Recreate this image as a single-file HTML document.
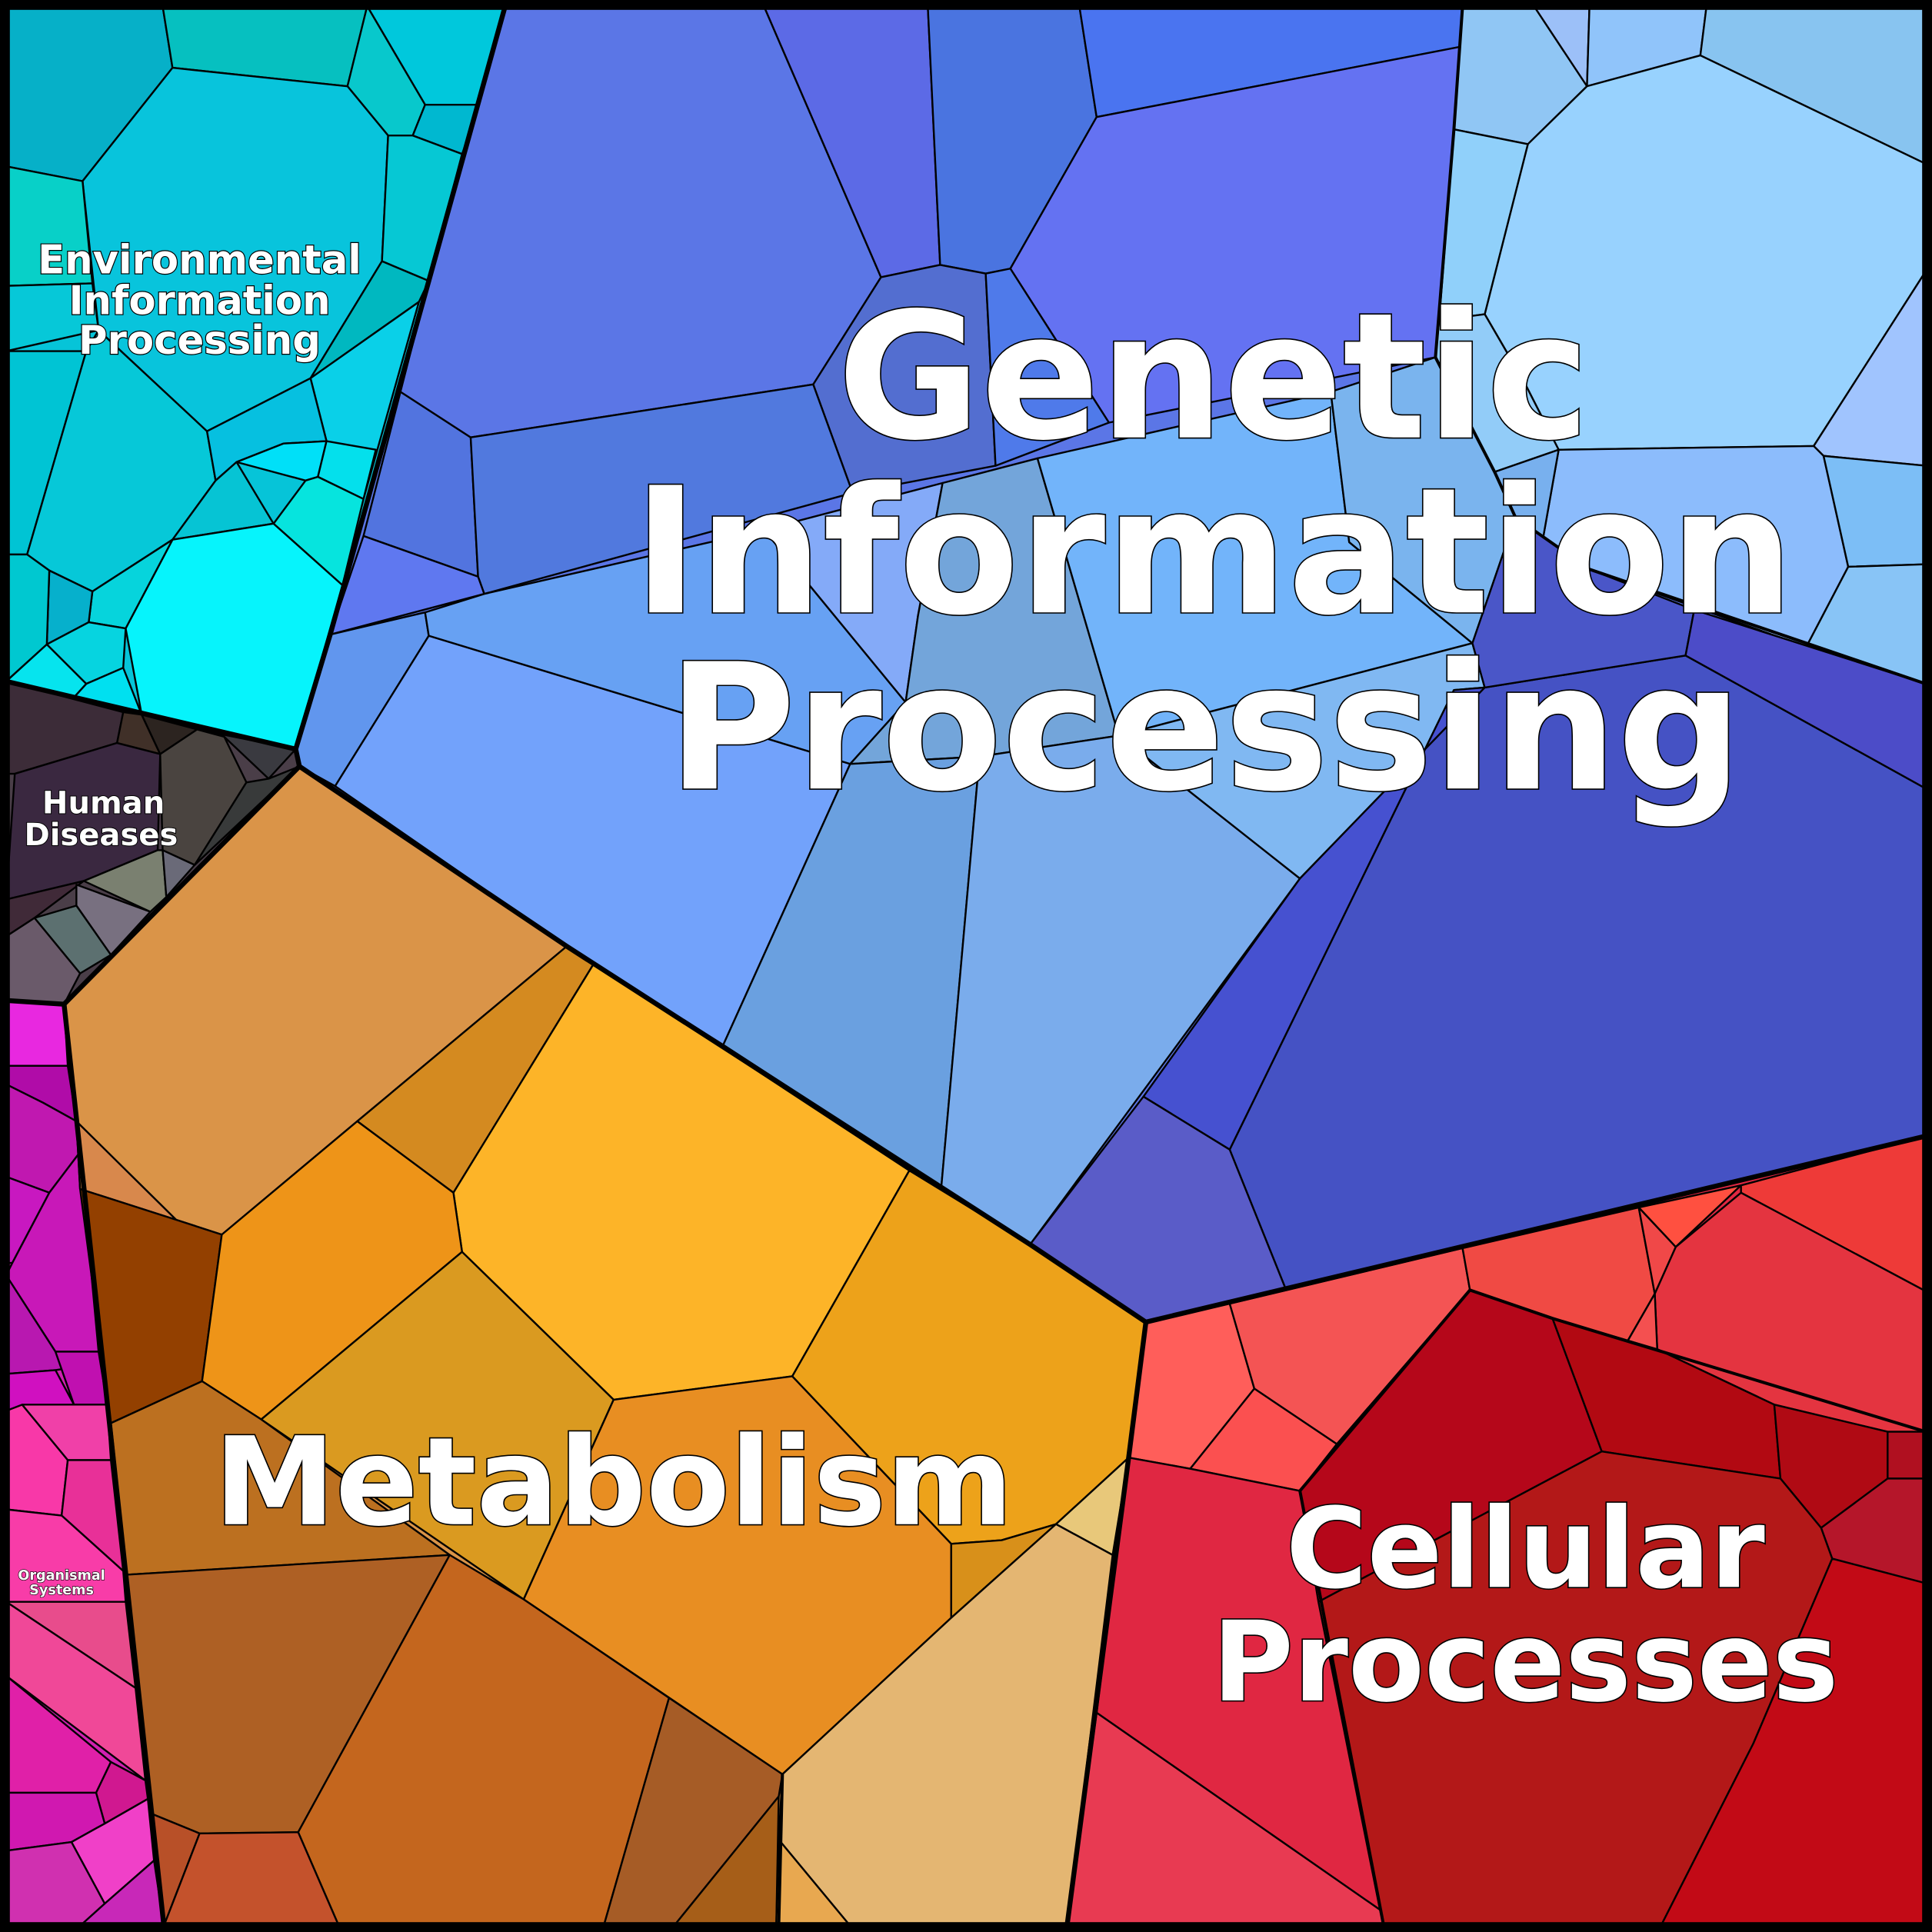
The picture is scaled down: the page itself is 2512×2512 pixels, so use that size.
<!DOCTYPE html>
<html><head><meta charset="utf-8"><style>
html,body{margin:0;padding:0;background:#000;}
svg{display:block;}
.c{stroke:#000;stroke-width:1.5;stroke-linejoin:round;}
.b{fill:none;stroke:#000;stroke-width:4;stroke-linejoin:round;}
text{font-family:"DejaVu Sans","Liberation Sans",sans-serif;font-weight:bold;fill:#fff;stroke:#000;paint-order:stroke;text-anchor:middle;}
</style></head><body>
<svg width="2512" height="2512" viewBox="0 0 1568 1568" xmlns="http://www.w3.org/2000/svg">
<rect x="0" y="0" width="1568" height="1568" fill="#000"/>
<!-- Environmental -->
<g class="c">
<polygon fill="#06C4D8" points="5,5 410,5 348,228 268,515 240,608 5,553"/>
<polygon fill="#06B0C8" points="5,5 132,5 140,55 67,147 5,135"/>
<polygon fill="#06C0C0" points="132,5 298,5 282,70 140,55"/>
<polygon fill="#00C8DC" points="298,5 410,5 390,85 345,85"/>
<polygon fill="#08C8CC" points="282,70 298,5 345,85 335,110 315,110"/>
<polygon fill="#00B8D0" points="345,85 390,85 375,125 335,110"/>
<polygon fill="#08C4DC" points="140,55 282,70 315,110 310,212 252,307 168,350 80,268 67,147"/>
<polygon fill="#08D0C8" points="5,135 67,147 75,230 5,232"/>
<polygon fill="#06C8D4" points="315,110 335,110 375,125 348,228 310,212"/>
<polygon fill="#00B8C0" points="310,212 348,228 340,245 252,307"/>
<polygon fill="#06C8D8" points="5,232 75,230 80,268 5,285"/>
<polygon fill="#00C4D4" points="5,285 70,285 22,450 5,450"/>
<polygon fill="#06C8D8" points="70,285 80,268 168,350 175,390 140,438 75,480 40,463 22,450"/>
<polygon fill="#0AD0E8" points="252,307 340,245 295,405 265,358"/>
<polygon fill="#06C0E0" points="168,350 252,307 265,358 230,360 192,375 175,390"/>
<polygon fill="#00E0F8" points="192,375 230,360 265,358 258,387 248,390"/>
<polygon fill="#04E0EC" points="258,387 265,358 305,365 295,405"/>
<polygon fill="#06C4D4" points="140,438 175,390 192,375 222,425"/>
<polygon fill="#06E4DE" points="222,425 248,390 258,387 295,405 278,475"/>
<polygon fill="#06F4FC" points="102,510 140,438 222,425 278,475 240,608 115,580"/>
<polygon fill="#06D4DC" points="75,480 140,438 102,510 72,505"/>
<polygon fill="#06B0CC" points="40,463 75,480 72,505 38,523"/>
<polygon fill="#00C8D0" points="5,450 22,450 40,463 38,523 5,553"/>
<polygon fill="#06D4E0" points="38,523 72,505 102,510 100,542 70,555"/>
<polygon fill="#06E4EE" points="5,553 38,523 70,555 60,566"/>
<polygon fill="#00E0F0" points="70,555 100,542 115,580 60,566"/>
</g>
<!-- Genetic -->
<g class="c">
<polygon fill="#5B76E6" points="410,5 1563,5 1563,922 930,1073 836,1010 460,768 243,622 240,608 268,515 348,228"/>
<polygon fill="#5B76E6" points="410,5 620,5 715,225 660,312 382,355 325,318 348,228"/>
<polygon fill="#5C6AE6" points="620,5 753,5 763,215 715,225"/>
<polygon fill="#4A74E0" points="753,5 876,5 890,95 820,218 800,222 763,215"/>
<polygon fill="#4A74F0" points="876,5 1187,5 1185,38 890,95"/>
<polygon fill="#6472F2" points="890,95 1185,38 1165,290 900,343 820,218"/>
<polygon fill="#536ED0" points="715,225 763,215 800,222 808,378 692,400 660,312"/>
<polygon fill="#4F7AEA" points="800,222 820,218 900,343 808,378"/>
<polygon fill="#5274DF" points="325,318 382,355 388,468 295,435"/>
<polygon fill="#5179DE" points="382,355 660,312 692,400 393,482 388,468"/>
<polygon fill="#5F78F0" points="295,435 388,468 393,482 268,515"/>
<polygon fill="#6196EE" points="268,515 345,497 348,516 272,638 243,622 240,608"/>
<polygon fill="#72A2FB" points="348,516 690,620 587,848 460,768 272,638"/>
<polygon fill="#67A1F3" points="345,497 393,482 620,430 735,570 690,620 348,516"/>
<polygon fill="#84AAF8" points="620,430 765,392 745,500 735,570"/>
<polygon fill="#73A5DA" points="765,392 842,372 908,597 795,614 690,620 735,570 745,500"/>
<polygon fill="#6AA0E0" points="690,620 795,614 764,963 587,848"/>
<polygon fill="#7AACEC" points="795,614 908,597 1055,713 836,1010 764,963"/>
<polygon fill="#72B4FA" points="842,372 1080,318 1095,440 1195,522 908,597"/>
<polygon fill="#7AB4EE" points="1080,318 1165,290 1213,383 1230,420 1195,522 1095,440"/>
<polygon fill="#80B8F2" points="908,597 1195,522 1205,558 1055,713"/>
<polygon fill="#90C6F4" points="1187,5 1245,5 1288,70 1240,117 1180,105"/>
<polygon fill="#9CC0F8" points="1245,5 1290,5 1288,70"/>
<polygon fill="#90C4FA" points="1290,5 1385,5 1380,45 1288,70"/>
<polygon fill="#88C4F0" points="1385,5 1563,5 1563,133 1380,45"/>
<polygon fill="#98D2FE" points="1240,117 1288,70 1380,45 1563,133 1563,220 1472,362 1265,365 1237,310 1205,255"/>
<polygon fill="#90D0FA" points="1180,105 1240,117 1205,255 1168,260"/>
<polygon fill="#92CCF8" points="1168,260 1205,255 1237,310 1265,365 1213,383 1165,290"/>
<polygon fill="#A0C4FE" points="1472,362 1563,220 1563,378 1480,370"/>
<polygon fill="#8CBCFC" points="1265,365 1472,362 1480,370 1500,460 1466,525 1290,462 1250,450"/>
<polygon fill="#7CBEF6" points="1480,370 1563,378 1563,458 1500,460"/>
<polygon fill="#88C4F6" points="1500,460 1563,458 1563,555 1466,525"/>
<polygon fill="#78B0EE" points="1213,383 1265,365 1250,450 1230,420"/>
<polygon fill="#4552C4" points="1205,558 1368,532 1563,640 1563,922 1043,1045 998,933 1180,560"/>
<polygon fill="#4A56C8" points="1230,420 1290,462 1375,495 1368,532 1205,558 1195,522"/>
<polygon fill="#4C4CC8" points="1375,495 1563,555 1563,640 1368,532"/>
<polygon fill="#4651D0" points="1205,558 1180,560 998,933 928,890 1055,713"/>
<polygon fill="#5A5CC8" points="928,890 998,933 1043,1045 930,1073 836,1010"/>
</g>
<!-- Human diseases -->
<g class="c">
<polygon fill="#4A3E48" points="5,553 240,608 243,622 52,815 5,812"/>
<polygon fill="#3C2C38" points="5,553 100,578 95,603 12,628 5,628"/>
<polygon fill="#403028" points="100,578 115,580 130,612 95,603"/>
<polygon fill="#2C2420" points="115,580 160,592 130,612"/>
<polygon fill="#3A3A40" points="160,592 240,608 218,632 182,598"/>
<polygon fill="#3A2840" points="12,628 95,603 130,612 128,690 68,715 5,730"/>
<polygon fill="#4A4440" points="130,612 160,592 182,598 200,635 158,702 132,690"/>
<polygon fill="#383A3A" points="200,635 218,632 243,622 158,702"/>
<polygon fill="#7A8070" points="68,715 128,690 132,690 135,728 122,740"/>
<polygon fill="#6A6A78" points="132,690 158,702 135,728"/>
<polygon fill="#402A38" points="5,730 68,715 28,745 5,760"/>
<polygon fill="#787080" points="62,718 122,740 90,775 62,735"/>
<polygon fill="#5C7070" points="28,745 62,735 90,775 65,790"/>
<polygon fill="#6A5A6A" points="5,760 28,745 65,790 52,815 5,812"/>
</g>
<!-- Organismal -->
<g class="c">
<polygon fill="#D020B0" points="5,812 52,815 133,1563 5,1563"/>
<polygon fill="#E828E0" points="5,812 52,815 55,865 5,865"/>
<polygon fill="#B00CA8" points="5,865 55,865 62,910 35,895 5,880"/>
<polygon fill="#C018B0" points="5,880 35,895 62,910 65,935 40,968 5,955"/>
<polygon fill="#C818C0" points="5,955 40,968 10,1025 5,1025"/>
<polygon fill="#C818B8" points="40,968 65,935 80,1097 45,1097 5,1035 10,1025"/>
<polygon fill="#B818B0" points="5,1035 45,1097 58,1110 45,1112 5,1115"/>
<polygon fill="#C010B0" points="45,1097 80,1097 87,1140 60,1140"/>
<polygon fill="#D010C0" points="5,1115 45,1112 60,1140 5,1145"/>
<polygon fill="#F838A8" points="5,1145 18,1140 55,1185 50,1230 5,1225"/>
<polygon fill="#F040A8" points="18,1140 87,1140 90,1185 55,1185"/>
<polygon fill="#E83098" points="55,1185 90,1185 100,1275 50,1230"/>
<polygon fill="#F83CA8" points="5,1225 50,1230 100,1275 102,1300 5,1300"/>
<polygon fill="#E84C8C" points="5,1300 102,1300 110,1370"/>
<polygon fill="#F04898" points="5,1300 110,1370 118,1445 5,1360"/>
<polygon fill="#E020A8" points="5,1360 90,1430 78,1455 5,1455"/>
<polygon fill="#D01890" points="90,1430 118,1445 120,1460 85,1480 78,1455"/>
<polygon fill="#D018B0" points="5,1455 78,1455 85,1480 58,1495 5,1502"/>
<polygon fill="#F040C8" points="58,1495 85,1480 120,1460 125,1510 85,1545"/>
<polygon fill="#D030B0" points="5,1502 58,1495 85,1545 65,1563 5,1563"/>
<polygon fill="#C828B8" points="85,1545 125,1510 133,1563 65,1563"/>
</g>
<!-- Metabolism -->
<g class="c">
<polygon fill="#DA9448" points="243,622 460,768 836,1010 930,1073 916,1183 866,1563 133,1563 52,815"/>
<polygon fill="#DA9448" points="52,815 243,622 460,768 290,910 180,1002 143,990 65,965 62,910"/>
<polygon fill="#D8884C" points="62,910 143,990 65,965"/>
<polygon fill="#934000" points="65,965 143,990 180,1002 164,1121 90,1155"/>
<polygon fill="#D48A20" points="460,768 482,782 368,968 290,910"/>
<polygon fill="#FDB428" points="482,782 738,950 643,1117 498,1136 375,1016 368,968"/>
<polygon fill="#EE9418" points="290,910 368,968 375,1016 212,1152 164,1121 180,1002"/>
<polygon fill="#EDA21A" points="738,950 836,1010 930,1073 916,1183 857,1237 813,1250 772,1253 643,1117"/>
<polygon fill="#DA9A20" points="375,1016 498,1136 425,1298 212,1152"/>
<polygon fill="#E88E22" points="498,1136 643,1117 772,1253 772,1313 635,1440 425,1298"/>
<polygon fill="#D8901A" points="772,1253 813,1250 857,1237 772,1313"/>
<polygon fill="#E8C87A" points="857,1237 916,1183 903,1262"/>
<polygon fill="#BC7020" points="90,1155 164,1121 212,1152 365,1262 103,1278"/>
<polygon fill="#AE6024" points="103,1278 365,1262 242,1487 162,1488 123,1472"/>
<polygon fill="#C4661E" points="365,1262 425,1298 543,1378 490,1563 275,1563 242,1487"/>
<polygon fill="#A65C26" points="543,1378 635,1440 632,1458 547,1563 490,1563"/>
<polygon fill="#A65E18" points="632,1458 630,1563 547,1563"/>
<polygon fill="#E4B672" points="635,1440 772,1313 857,1237 903,1262 866,1563 690,1563 632,1493"/>
<polygon fill="#E8A850" points="632,1493 690,1563 630,1563"/>
<polygon fill="#B85028" points="123,1472 162,1488 133,1563"/>
<polygon fill="#C4522C" points="162,1488 242,1487 275,1563 133,1563"/>
</g>
<!-- Cellular -->
<g class="c">
<polygon fill="#E02742" points="930,1073 1563,922 1563,1563 866,1563 916,1183"/>
<polygon fill="#FF5E5A" points="930,1073 998,1058 1018,1127 966,1192 916,1183"/>
<polygon fill="#F45454" points="998,1058 1187,1013 1193,1047 1085,1172 1018,1127"/>
<polygon fill="#FB5050" points="1018,1127 1085,1172 1055,1210 966,1192"/>
<polygon fill="#F04A44" points="1187,1013 1330,980 1343,1050 1320,1090 1260,1070 1193,1047"/>
<polygon fill="#FF5040" points="1330,980 1413,962 1360,1012"/>
<polygon fill="#EE3A38" points="1413,962 1563,922 1563,1048 1413,968"/>
<polygon fill="#E43440" points="1343,1050 1345,1095 1440,1140 1532,1162 1563,1162 1563,1048 1413,968 1360,1012"/>
<polygon fill="#F04848" points="1330,980 1360,1012 1343,1050"/>
<polygon fill="#F45050" points="1320,1090 1343,1050 1345,1095"/>
<polygon fill="#B5071A" points="1193,1047 1260,1070 1300,1178 1070,1300 1055,1210 1085,1172"/>
<polygon fill="#B20912" points="1260,1070 1345,1095 1440,1140 1445,1200 1300,1178"/>
<polygon fill="#B00A14" points="1440,1140 1532,1162 1532,1200 1478,1240 1445,1200"/>
<polygon fill="#B01020" points="1532,1162 1563,1162 1563,1200 1532,1200"/>
<polygon fill="#B5162A" points="1478,1240 1532,1200 1563,1200 1563,1285 1487,1265"/>
<polygon fill="#B31818" points="1300,1178 1445,1200 1478,1240 1487,1265 1423,1415 1348,1563 1123,1563 1070,1300"/>
<polygon fill="#C20A16" points="1487,1265 1563,1285 1563,1563 1348,1563 1423,1415"/>
<polygon fill="#E02742" points="916,1183 966,1192 1055,1210 1070,1300 1120,1550 890,1390"/>
<polygon fill="#E83A52" points="890,1390 1120,1550 1123,1563 866,1563"/>
</g>
<!-- Thick boundaries -->
<polyline class="b" points="410,5 348,228 268,515 240,608 243,622"/>
<polyline class="b" points="5,553 240,608"/>
<polyline class="b" points="243,622 460,768 836,1010 930,1073"/>
<polyline class="b" points="930,1073 1563,922"/>
<polyline class="b" points="243,622 52,815 5,812"/>
<polyline class="b" points="52,815 133,1563"/>
<polyline class="b" points="930,1073 916,1183 866,1563"/>
<polyline fill="none" stroke="#000" stroke-width="2.5" points="1165,290 1213,383 1230,420 1290,462 1563,555"/>
<polyline fill="none" stroke="#000" stroke-width="2.5" points="1187,5 1180,105 1165,290"/>
<polyline fill="none" stroke="#000" stroke-width="2.5" points="1055,1210 1193,1047 1260,1070 1563,1162"/>
<polyline fill="none" stroke="#000" stroke-width="2.5" points="1055,1210 1123,1563"/>
<polyline fill="none" stroke="#000" stroke-width="2.5" points="635,1440 632,1563"/>
<rect x="4" y="4" width="1560" height="1560" fill="none" stroke="#000" stroke-width="8"/>
<!-- Labels -->
<g style="font-size:142px;stroke-width:2">
<text x="985" y="355">Genetic</text>
<text x="985" y="497">Information</text>
<text x="978" y="640">Processing</text>
</g>
<text x="498" y="1237" style="font-size:99px;stroke-width:2">Metabolism</text>
<g style="font-size:90px;stroke-width:2">
<text x="1238" y="1288">Cellular</text>
<text x="1238" y="1380">Processes</text>
</g>
<g style="font-size:32px;stroke-width:1.5">
<text x="162" y="222">Environmental</text>
<text x="162" y="255">Information</text>
<text x="162" y="287">Processing</text>
</g>
<g style="font-size:25px;stroke-width:1.2">
<text x="84" y="660">Human</text>
<text x="82" y="686">Diseases</text>
</g>
<g style="font-size:11px;stroke-width:0.8">
<text x="50" y="1282">Organismal</text>
<text x="50" y="1294">Systems</text>
</g>
</svg>
</body></html>
